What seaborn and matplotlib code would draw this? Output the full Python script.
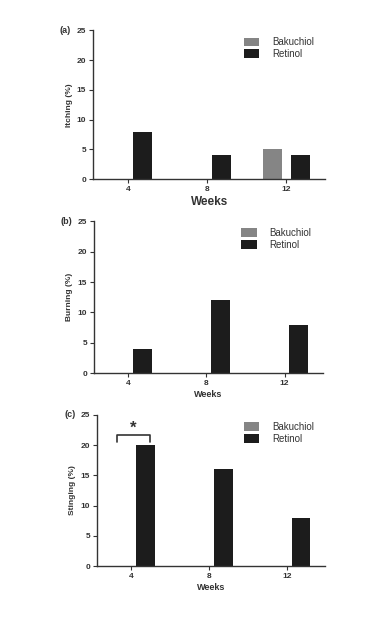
import numpy as np
import pandas as pd
import matplotlib
matplotlib.use('Agg')
import matplotlib.pyplot as plt
import seaborn as sns

sns.set_style('white')
plt.rcParams['font.family'] = ['Liberation Sans', 'DejaVu Sans']

weeks = ['4', '8', '12']
groups = ['Bakuchiol', 'Retinol']

itching_bakuchiol = [0, 0, 5]
itching_retinol = [8, 4, 4]
burning_bakuchiol = [0, 0, 0]
burning_retinol = [4, 12, 8]
stinging_bakuchiol = [0, 0, 0]
stinging_retinol = [20, 16, 8]

panels = [
    ('(a)', 'Itching (%)', itching_bakuchiol, itching_retinol, [0.240, 0.711, 0.598, 0.240], 8.5),
    ('(b)', 'Burning (%)', burning_bakuchiol, burning_retinol, [0.242, 0.398, 0.590, 0.245], 6.5),
    ('(c)', 'Stinging (%)', stinging_bakuchiol, stinging_retinol, [0.250, 0.087, 0.588, 0.244], 6.5),
]

colors = {'Bakuchiol': '#858585', 'Retinol': '#1c1c1c'}

fig = plt.figure(figsize=(3.88, 6.2), dpi=100)

for tag, ylab, bak, ret, pos, xl_size in panels:
    ax = fig.add_axes(pos)
    df = pd.DataFrame({
        'week': weeks * 2,
        'group': ['Bakuchiol'] * 3 + ['Retinol'] * 3,
        'value': bak + ret,
    })
    sns.barplot(data=df, x='week', y='value', hue='group', order=weeks,
                hue_order=groups, palette=colors, width=0.72, gap=0.33,
                ax=ax, saturation=1, edgecolor='none')
    ax.set_xlim(-0.44, 2.49)
    ax.set_ylim(0, 25)
    ax.set_yticks([0, 5, 10, 15, 20, 25])
    sns.despine(ax=ax)
    for s in ['left', 'bottom']:
        ax.spines[s].set_color('#333333')
        ax.spines[s].set_linewidth(1.0)
    ax.tick_params(axis='both', direction='out', length=3, width=0.8,
                   color='#333333', labelsize=6, pad=2, left=True, bottom=True)
    for lbl in ax.get_xticklabels() + ax.get_yticklabels():
        lbl.set_fontweight('bold')
        lbl.set_color('#333333')
    ax.set_ylabel(ylab, fontsize=6, fontweight='bold', color='#333333', labelpad=3)
    ax.set_xlabel('Weeks', fontsize=xl_size, fontweight='bold', color='#333333', labelpad=2)
    ax.legend(frameon=False, loc='upper right', bbox_to_anchor=(0.98, 1.0),
              fontsize=7, handlelength=1.6, handleheight=1.0,
              labelcolor='#333333', borderaxespad=0.3, handletextpad=1.3,
              labelspacing=0.2)
    ax.text(-0.095, 1.0, tag, transform=ax.transAxes, fontsize=6.5,
            fontweight='bold', color='#333333', ha='right', va='center')

    if tag == '(c)':
        x0, x1 = -0.18, 0.24
        yb, yt = 20.5, 21.7
        ax.plot([x0, x0, x1, x1], [yb, yt, yt, yb], color='#333333', lw=1.2)
        ax.text((x0 + x1) / 2, 21.6, '*', ha='center', va='bottom',
                fontsize=12, fontweight='bold', color='#333333')

fig.savefig('out.png', dpi=100)
